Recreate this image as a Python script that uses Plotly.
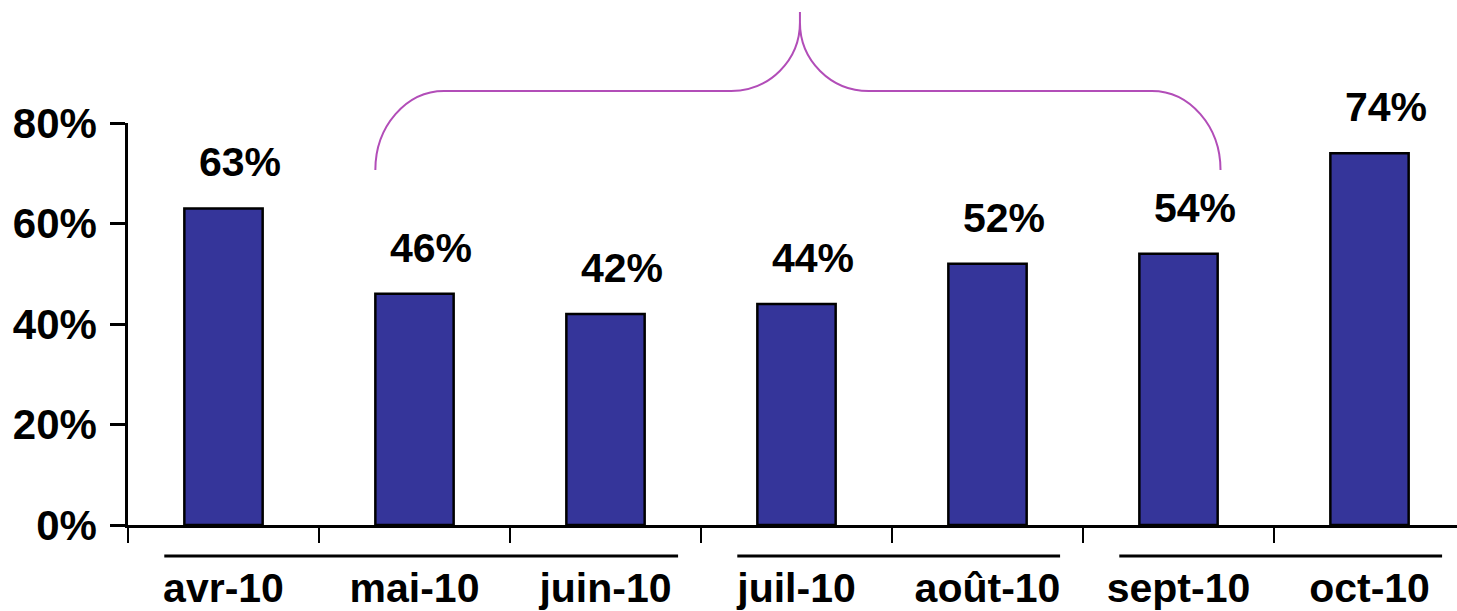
import plotly.graph_objects as go

categories = ["avr-10", "mai-10", "juin-10", "juil-10", "août-10", "sept-10", "oct-10"]
values = [63, 46, 42, 44, 52, 54, 74]
value_labels = ["63%", "46%", "42%", "44%", "52%", "54%", "74%"]
y_tickvals = [0, 20, 40, 60, 80]
y_ticktext = ["0%", "20%", "40%", "60%", "80%"]
groups = [(0, 2), (3, 4), (5, 6)]  # category index ranges under-lined

FONT = "Arial, Liberation Sans, sans-serif"
BAR = "#35359A"
PURPLE = "#B24DB8"

W, H = 1457, 611
L, T, B = 128, 123, 86
plot_w = W - L
cat_px = 191.0
xmin = -0.5
xmax = xmin + plot_w / cat_px

xs = list(range(len(categories)))

fig = go.Figure()
fig.add_trace(go.Bar(
    x=xs, y=values, width=0.41,
    marker=dict(color=BAR, line=dict(color="black", width=2.5)),
    hoverinfo="skip",
))

for i, (v, t) in enumerate(zip(values, value_labels)):
    fig.add_annotation(x=i, y=v, text=f"<b>{t}</b>", showarrow=False,
                       xref="x", yref="y", yanchor="middle", xanchor="center",
                       xshift=16, yshift=46,
                       font=dict(family=FONT, size=41, color="black"))

shapes = []
# group lines below the category labels
for a, b in groups:
    shapes.append(dict(type="line", xref="x", yref="paper",
                       x0=a - 0.31, x1=b + 0.38, y0=-0.077, y1=-0.077,
                       line=dict(color="black", width=3)))

# brace over mai-10 .. sept-10
xl, xr = 1 - 0.205, 5 + 0.22
xc = 3.018
rx = 0.36
yb, yh, ya, ytip = 0.883, 1.0796, 1.25, 1.276
k = 0.5523
path = (
    f"M {xl},{yb} "
    f"C {xl},{yb + k*(yh-yb)} {xl + rx*(1-k)},{yh} {xl + rx},{yh} "
    f"L {xc - rx},{yh} "
    f"C {xc - rx + k*rx},{yh} {xc},{ya - k*(ya-yh)} {xc},{ya} "
    f"L {xc},{ytip} "
    f"M {xc},{ya} "
    f"C {xc},{ya - k*(ya-yh)} {xc + rx - k*rx},{yh} {xc + rx},{yh} "
    f"L {xr - rx},{yh} "
    f"C {xr - rx*(1-k)},{yh} {xr},{yb + k*(yh-yb)} {xr},{yb}"
)
shapes.append(dict(type="path", xref="x", yref="paper", path=path,
                   line=dict(color=PURPLE, width=2)))

fig.update_layout(
    width=W, height=H,
    margin=dict(l=L, r=0, t=T, b=B, pad=0, autoexpand=False),
    paper_bgcolor="white", plot_bgcolor="white",
    showlegend=False,
    shapes=shapes,
)
fig.update_xaxes(
    range=[xmin, xmax], automargin=False,
    tickmode="array", tickvals=xs, ticktext=[f"<b>{c}</b>" for c in categories],
    ticks="", showline=True, linecolor="black", linewidth=2.5,
    showgrid=False, zeroline=False,
    ticklabelstandoff=25,
    tickfont=dict(family=FONT, size=41, color="black"),
    minor=dict(tickmode="array", tickvals=[xmin + i for i in range(8)],
               ticks="outside", ticklen=15, tickwidth=2, tickcolor="black",
               showgrid=False),
)
fig.update_yaxes(
    range=[0, 80], automargin=False,
    tickmode="array", tickvals=y_tickvals, ticktext=[f"<b>{t}</b>" for t in y_ticktext],
    ticks="outside", ticklen=15, tickwidth=2.5, tickcolor="black",
    showline=True, linecolor="black", linewidth=2.5,
    showgrid=False, zeroline=False,
    ticklabelstandoff=5,
    tickfont=dict(family=FONT, size=42, color="black"),
)

fig.write_html("out.html", config={"displayModeBar": False},
               post_script="document.body.style.margin='0';document.body.style.overflow='hidden';")
